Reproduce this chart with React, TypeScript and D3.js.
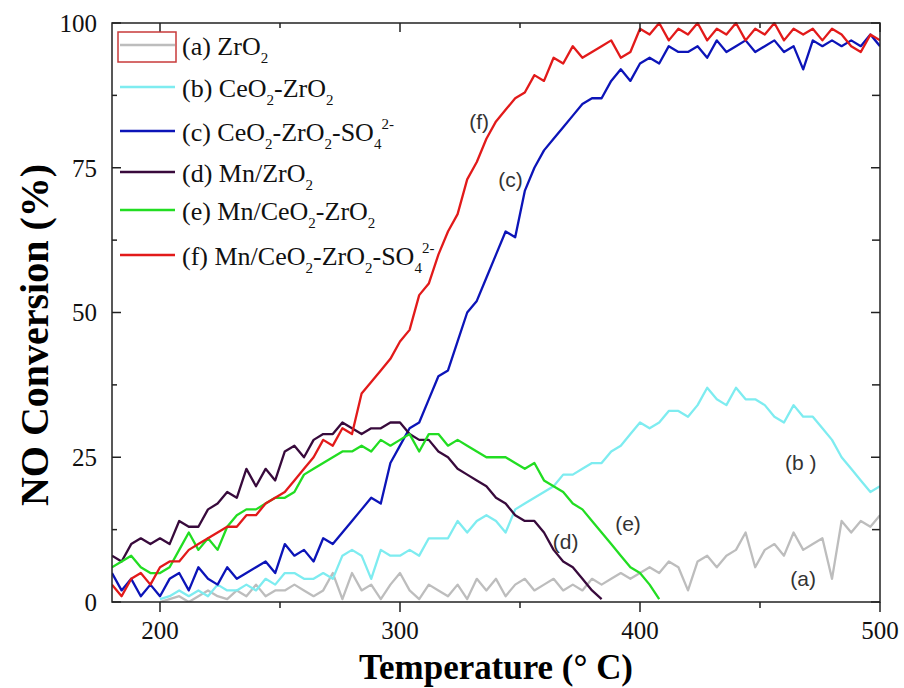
import React from "react";
import * as d3 from "d3";

// Temperature grid (°C), 4 °C sampling
const temperatures: number[] = d3.range(180, 501, 4);

// NO conversion (%), one value per temperature (null = no data)
const seriesA: (number | null)[] = [
  null, null, null, null, null, 0, 0.5, 1, 0, 1, 2, 1, 0.5, 2, 1, 3, 1, 2, 2, 3,
  2, 1, 2, 5, 0.5, 5, 2, 3, 0.5, 3, 5, 2, 0.5, 3, 2, 1, 3, 0.5, 4, 2,
  4, 1, 3, 4, 2, 3, 4, 2, 3, 2, 4, 3, 4, 5, 4, 5, 6, 5, 7, 6,
  2, 7, 8, 6, 8, 9, 12, 6, 9, 10, 8, 12, 9, 10, 11, 4, 14, 12, 14, 13, 15,
];
const seriesB: (number | null)[] = [
  null, null, null, null, null, 0.5, 1, 2, 1, 2, 1, 3, 2, 2, 3, 2, 4, 3, 5, 5,
  4, 4, 5, 4, 8, 9, 8, 4, 9, 8, 8, 9, 8, 11, 11, 11, 14, 12, 14, 15,
  14, 12, 16, 17, 18, 19, 20, 22, 22, 23, 24, 24, 26, 27, 29, 31, 30, 31, 33, 33,
  32, 34, 37, 35, 34, 37, 35, 35, 34, 32, 31, 34, 32, 32, 30, 28, 25, 23, 21, 19, 20,
];
const seriesC: (number | null)[] = [
  5, 2, 4, 1, 3, 1, 4, 5, 2, 6, 4, 3, 6, 4, 5, 6, 7, 5, 10, 8,
  9, 7, 11, 10, 12, 14, 16, 18, 17, 24, 27, 30, 31, 35, 39, 40, 45, 50, 52, 56,
  60, 64, 63, 71, 75, 78, 80, 82, 84, 86, 87, 87, 90, 92, 90, 93, 94, 93, 96, 95,
  95, 96, 94, 97, 95, 96, 97, 95, 96, 97, 95, 96, 92, 97, 96, 97, 96, 97, 96, 98, 96,
];
const seriesD: (number | null)[] = [
  8, 7, 10, 11, 10, 11, 10, 14, 13, 13, 16, 17, 19, 18, 23, 20, 23, 21, 26, 27,
  25, 28, 29, 29, 31, 30, 29, 30, 30, 31, 31, 29, 28, 28, 26, 25, 23, 22, 21, 20,
  18, 17, 15, 14, 14, 12, 9, 7, 6, 4, 2, 0.5, null, null, null, null, null, null, null, null,
  null, null, null, null, null, null, null, null, null, null, null, null, null, null, null, null, null, null, null, null, null,
];
const seriesE: (number | null)[] = [
  6, 7, 8, 6, 5, 5, 6, 9, 12, 9, 11, 9, 13, 15, 16, 16, 17, 18, 18, 19,
  22, 23, 24, 25, 26, 26, 27, 26, 28, 27, 28, 29, 26, 29, 29, 27, 28, 27, 26, 25,
  25, 25, 24, 23, 24, 21, 20, 19, 17, 16, 14, 12, 10, 8, 6, 5, 3, 0.5, null, null,
  null, null, null, null, null, null, null, null, null, null, null, null, null, null, null, null, null, null, null, null, null,
];
const seriesF: (number | null)[] = [
  3, 1, 4, 5, 3, 6, 7, 7, 9, 10, 11, 12, 13, 13, 15, 15, 17, 18, 19, 21,
  23, 25, 28, 27, 30, 29, 36, 38, 40, 42, 45, 47, 53, 55, 60, 64, 67, 73, 76, 80,
  83, 85, 87, 88, 91, 90, 94, 93, 96, 94, 95, 96, 97, 94, 95, 99, 98, 100, 97, 99,
  98, 100, 97, 99, 98, 100, 97, 99, 98, 100, 97, 99, 98, 99, 97, 99, 98, 96, 95, 98, 97,
];

const seriesNames = ["a", "b", "c", "d", "e", "f"];
const seriesColors = ["#bdbdbd", "#7eecf0", "#0c14b8", "#380a3c", "#22dd22", "#e21a1a"];
const seriesData = [seriesA, seriesB, seriesC, seriesD, seriesE, seriesF];

const xTicksMajor = [200, 300, 400, 500];
const xTicksMinor = [250, 350, 450];
const yTicksMajor = [0, 25, 50, 75, 100];
const yTicksMinor = [12.5, 37.5, 62.5, 87.5];

const annotations = [
  { text: "(a)", t: 468, v: 4 },
  { text: "(b )", t: 467, v: 24 },
  { text: "(c)", t: 346, v: 73 },
  { text: "(d)", t: 369, v: 10.5 },
  { text: "(e)", t: 395, v: 13.5 },
  { text: "(f)", t: 333, v: 83 },
];

const W = 904;
const H = 688;
const M = { left: 112, right: 880, top: 23, bottom: 602 };

const serif = "'Liberation Serif', 'Times New Roman', serif";
const sans = "'Liberation Sans', Arial, sans-serif";

function Legend() {
  const rows = [45, 87, 131, 172, 210, 255];
  const sub = (s: string) => (
    <tspan fontSize={15} dy={8}>{s}</tspan>
  );
  const labels: React.ReactNode[] = [
    <>(a) ZrO{sub("2")}</>,
    <>(b) CeO{sub("2")}<tspan dy={-8}>-ZrO</tspan>{sub("2")}</>,
    <>(c) CeO{sub("2")}<tspan dy={-8}>-ZrO</tspan>{sub("2")}<tspan dy={-8}>-SO</tspan>{sub("4")}<tspan fontSize={15} dy={-20}>2-</tspan></>,
    <>(d) Mn/ZrO{sub("2")}</>,
    <>(e) Mn/CeO{sub("2")}<tspan dy={-8}>-ZrO</tspan>{sub("2")}</>,
    <>(f) Mn/CeO{sub("2")}<tspan dy={-8}>-ZrO</tspan>{sub("2")}<tspan dy={-8}>-SO</tspan>{sub("4")}<tspan fontSize={15} dy={-20}>2-</tspan></>,
  ];
  return (
    <g>
      <rect x={118} y={32} width={58} height={30} fill="none" stroke="#c83a3a" strokeWidth={1.5} />
      {rows.map((y, i) => (
        <g key={i}>
          <line x1={120} x2={175} y1={y} y2={y} stroke={seriesColors[i]} strokeWidth={2.5} />
          <text x={182} y={y + 10} fontFamily={serif} fontSize={26} fill="#111">
            {labels[i]}
          </text>
        </g>
      ))}
    </g>
  );
}

export default function App() {
  const x = d3.scaleLinear().domain([180, 500]).range([M.left, M.right]);
  const y = d3.scaleLinear().domain([0, 100]).range([M.bottom, M.top]);

  const line = d3
    .line<number | null>()
    .defined((d) => d != null)
    .x((_, i) => x(temperatures[i]))
    .y((d) => y(d as number));

  return (
    <svg width={W} height={H} style={{ position: "absolute", left: 0, top: 0, background: "#fff" }}>
      <rect x={0} y={0} width={W} height={H} fill="#fff" />
      <defs>
        <clipPath id="plot">
          <rect x={M.left} y={M.top - 1} width={M.right - M.left} height={M.bottom - M.top + 1} />
        </clipPath>
      </defs>

      <g clipPath="url(#plot)">
        {seriesData.map((s, i) => (
          <path key={seriesNames[i]} d={line(s) || ""} fill="none" stroke={seriesColors[i]} strokeWidth={2.3} strokeLinejoin="round" />
        ))}
      </g>

      {/* frame */}
      <rect x={M.left} y={M.top} width={M.right - M.left} height={M.bottom - M.top} fill="none" stroke="#222" strokeWidth={1.5} />

      {/* x ticks: bottom outward, top inward */}
      {xTicksMajor.map((t) => (
        <g key={"xM" + t}>
          <line x1={x(t)} x2={x(t)} y1={M.bottom} y2={M.bottom + 10} stroke="#222" strokeWidth={1.5} />
          <line x1={x(t)} x2={x(t)} y1={M.top} y2={M.top + 9} stroke="#222" strokeWidth={1.5} />
          <text x={x(t)} y={639} textAnchor="middle" fontFamily={serif} fontSize={25} fill="#111">{t}</text>
        </g>
      ))}
      {xTicksMinor.map((t) => (
        <g key={"xm" + t}>
          <line x1={x(t)} x2={x(t)} y1={M.bottom} y2={M.bottom + 6} stroke="#222" strokeWidth={1.5} />
          <line x1={x(t)} x2={x(t)} y1={M.top} y2={M.top + 5} stroke="#222" strokeWidth={1.5} />
        </g>
      ))}

      {/* y ticks: inward on both sides */}
      {yTicksMajor.map((t) => (
        <g key={"yM" + t}>
          <line x1={M.left} x2={M.left + 9} y1={y(t)} y2={y(t)} stroke="#222" strokeWidth={1.5} />
          <line x1={M.right} x2={M.right - 9} y1={y(t)} y2={y(t)} stroke="#222" strokeWidth={1.5} />
          <text x={97} y={y(t)} dy="0.35em" textAnchor="end" fontFamily={serif} fontSize={25} fill="#111">{t}</text>
        </g>
      ))}
      {yTicksMinor.map((t) => (
        <g key={"ym" + t}>
          <line x1={M.left} x2={M.left + 5} y1={y(t)} y2={y(t)} stroke="#222" strokeWidth={1.5} />
          <line x1={M.right} x2={M.right - 8} y1={y(t)} y2={y(t)} stroke="#222" strokeWidth={1.5} />
        </g>
      ))}

      {/* axis titles */}
      <text
        transform={`translate(48, 335) rotate(-90)`}
        textAnchor="middle"
        fontFamily={serif}
        fontWeight="bold"
        fontSize={40}
        fill="#000"
      >
        NO Conversion (%)
      </text>
      <text
        x={359}
        y={679}
        fontFamily={serif}
        fontWeight="bold"
        fontSize={35}
        textLength={274}
        lengthAdjust="spacingAndGlyphs"
        fill="#000"
      >
        Temperature (° C)
      </text>

      <Legend />

      {/* curve annotations */}
      {annotations.map((a) => (
        <text key={a.text} x={x(a.t)} y={y(a.v)} textAnchor="middle" dy="0.35em" fontFamily={sans} fontSize={21} fill="#333">
          {a.text}
        </text>
      ))}
    </svg>
  );
}
